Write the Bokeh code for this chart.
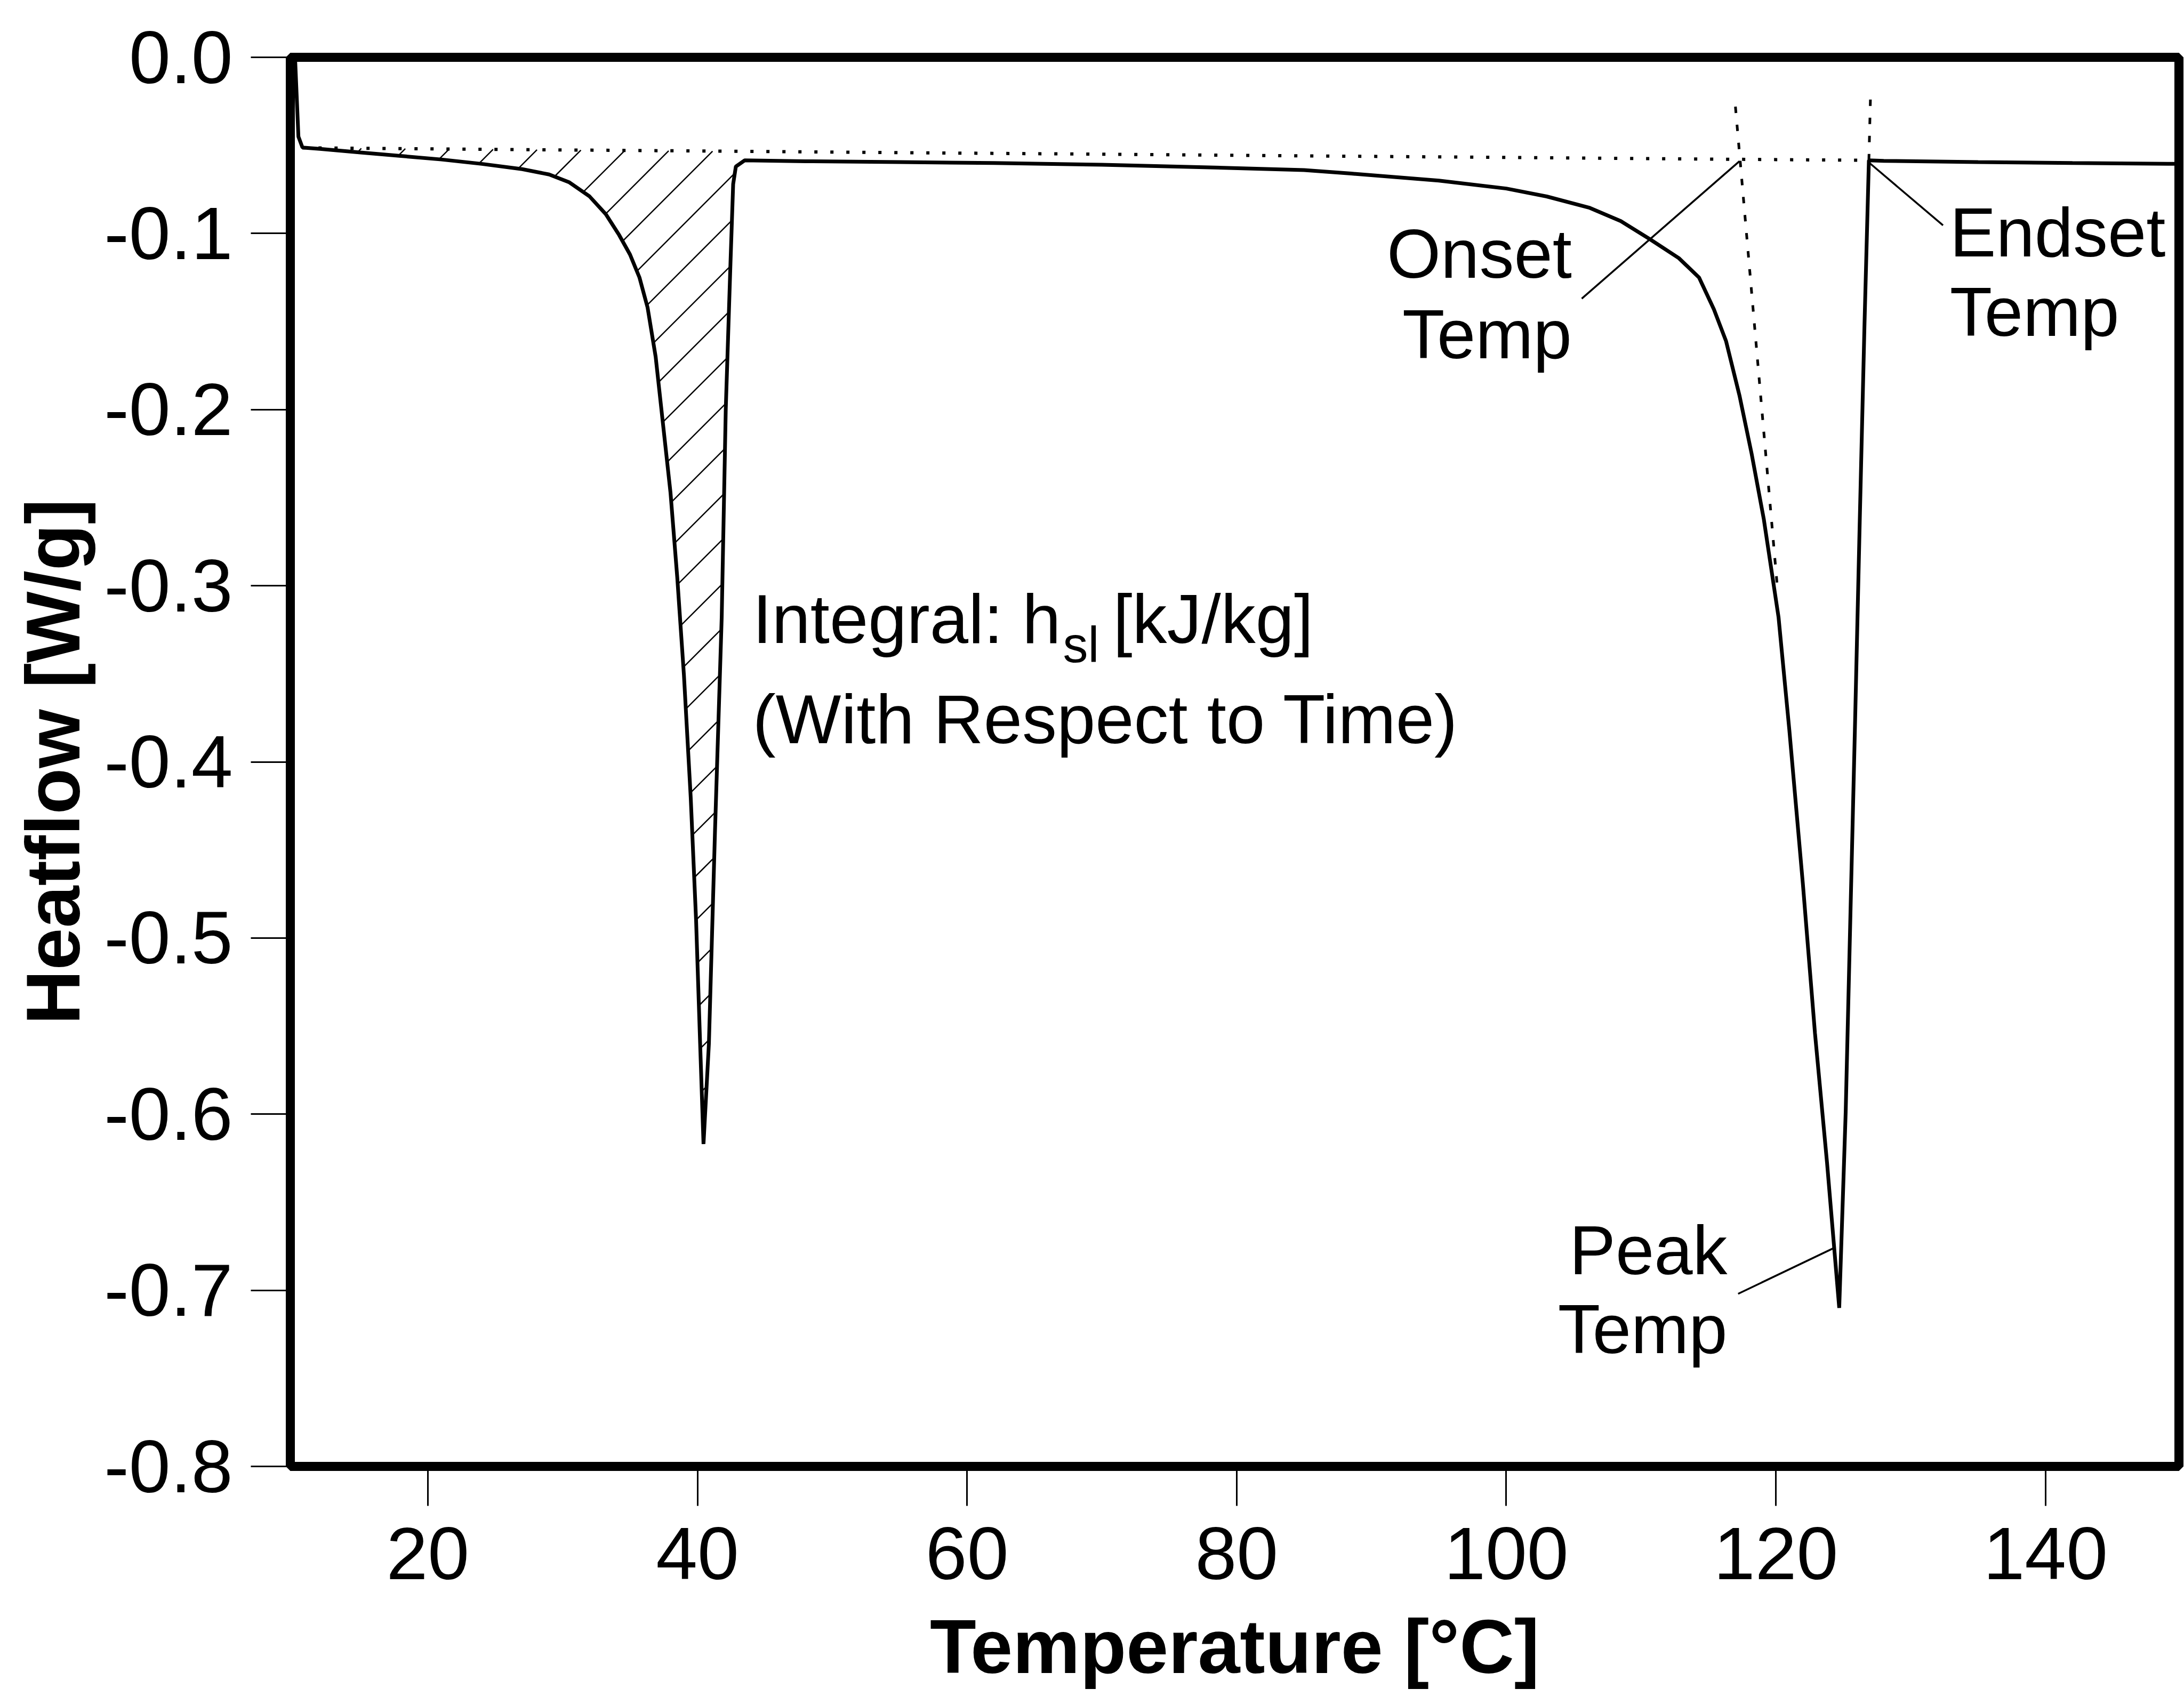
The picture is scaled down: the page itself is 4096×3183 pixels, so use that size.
import numpy as np
from bokeh.plotting import figure
from bokeh.models import Range1d, FixedTicker, Label, NumeralTickFormatter
from bokeh.embed import file_html
from bokeh.resources import INLINE

# ---------------- data ----------------
temperature = [10.15, 10.4, 10.7, 12, 15, 18, 21, 24, 27, 29, 30.5, 32, 33.2, 34.2, 35,
               35.7, 36.3, 36.9, 37.4, 38.0, 38.5, 39.0, 39.5, 39.9, 40.2, 40.45,
               40.85, 41.3, 41.8, 42.1, 42.45, 42.65, 42.85, 43.5, 48, 55, 62, 70, 78,
               85, 88.5, 95, 100, 103, 106.2, 108.5, 110.6, 112.8, 114.3, 115.4, 116.3,
               117.3, 118.2, 119.1, 120.2, 121.0, 122.0, 122.9, 123.8, 124.7,
               125.18, 125.53, 125.88, 126.22, 126.57, 126.9, 128, 135, 142, 150]
heatflow = [0.0, -0.045, -0.0512, -0.052, -0.054, -0.056, -0.058, -0.0605, -0.0635, -0.0665,
            -0.071, -0.079, -0.089, -0.101, -0.112, -0.125, -0.142, -0.170, -0.205,
            -0.247, -0.295, -0.351, -0.420, -0.490, -0.560, -0.617,
            -0.560, -0.440, -0.318, -0.200, -0.117, -0.072, -0.062, -0.0585, -0.059,
            -0.0595, -0.060, -0.061, -0.0625, -0.064, -0.066, -0.070, -0.0745, -0.079,
            -0.0855, -0.093, -0.103, -0.114, -0.125, -0.143, -0.161,
            -0.192, -0.225, -0.262, -0.318, -0.382, -0.469, -0.554, -0.628, -0.710,
            -0.5986, -0.487, -0.376, -0.264, -0.153, -0.0585, -0.0588, -0.0595, -0.060, -0.0605]

baseline_temp = [10.7, 126.9]
baseline_heat = [-0.0514, -0.0585]

onset_tangent_temp = [117.0, 120.1]
onset_tangent_heat = [-0.028, -0.300]
endset_tangent_temp = [126.9, 127.02]
endset_tangent_heat = [-0.0585, -0.022]

onset_leader_temp = [105.6, 117.3]
onset_leader_heat = [-0.137, -0.059]
endset_leader_temp = [126.95, 132.4]
endset_leader_heat = [-0.060, -0.0954]
peak_leader_temp = [117.2, 124.3]
peak_leader_heat = [-0.702, -0.676]

x_ticks = [20, 40, 60, 80, 100, 120, 140]
y_ticks = [0.0, -0.1, -0.2, -0.3, -0.4, -0.5, -0.6, -0.7, -0.8]

x_label = "Temperature [°C]"
y_label = "Heatflow [W/g]"

FONT = "Liberation Sans"

# ---------------- figure ----------------
W, H = 4096, 3183
BL, BR, BT, BB = 544, 10, 107, 433
x_lo, x_hi = 9.8, 149.9
y_lo, y_hi = -0.8, 0.0
frame_w = W - BL - BR
frame_h = H - BT - BB
px_per_x = frame_w / (x_hi - x_lo)
px_per_y = frame_h / (y_hi - y_lo)

p = figure(width=W, height=H, x_range=Range1d(x_lo, x_hi), y_range=Range1d(y_lo, y_hi),
           output_backend="svg", toolbar_location=None,
           min_border_left=BL, min_border_right=BR, min_border_top=BT, min_border_bottom=BB)
p.background_fill_color = "white"
p.border_fill_color = "white"
p.outline_line_color = "black"
p.outline_line_width = 17
p.grid.visible = False

for ax in (p.xaxis[0], p.yaxis[0]):
    ax.axis_line_color = None
    ax.major_tick_in = 0
    ax.major_tick_out = 74
    ax.major_tick_line_width = 3
    ax.major_tick_line_color = "black"
    ax.minor_tick_line_color = None
    ax.major_label_text_font = FONT
    ax.major_label_text_font_size = "140px"
    ax.major_label_text_color = "black"
    ax.axis_label_text_font = FONT
    ax.axis_label_text_font_size = "142px"
    ax.axis_label_text_font_style = "bold"
    ax.axis_label_text_color = "black"

p.xaxis.ticker = FixedTicker(ticks=x_ticks)
p.yaxis.ticker = FixedTicker(ticks=y_ticks)
p.yaxis.formatter = NumeralTickFormatter(format="0.0")
p.xaxis.formatter = NumeralTickFormatter(format="0")
p.xaxis.axis_label = x_label
p.yaxis.axis_label = y_label
p.xaxis.major_label_standoff = 41
p.yaxis.major_label_standoff = 34
p.xaxis.axis_label_standoff = 44
p.yaxis.axis_label_standoff = 13

# ---------------- hatch lines inside the first peak (computed from data) ----------------
k = px_per_x / px_per_y            # 45 degree slope in data units
step_x = 83 / px_per_x             # horizontal spacing of the hatch
xs = np.linspace(baseline_temp[0], 42.85, 4000)
yc = np.interp(xs, temperature, heatflow)
yb = np.interp(xs, baseline_temp, baseline_heat)
hx0, hy0, hx1, hy1 = [], [], [], []
c0 = -0.368
for n in range(-30, 30):
    c = c0 + n * k * step_x
    line = c + k * xs
    m = (line <= yb) & (line >= yc)
    if m.sum() > 2:
        a, b = xs[m].min(), xs[m].max()
        hx0.append(a); hy0.append(c + k * a)
        hx1.append(b); hy1.append(c + k * b)
p.segment(hx0, hy0, hx1, hy1, line_color="black", line_width=2.5)

# ---------------- curves ----------------
p.line(baseline_temp, baseline_heat, line_color="black", line_width=6, line_dash="6 24")
p.line(onset_tangent_temp, onset_tangent_heat, line_color="black", line_width=5, line_dash="12 22")
p.line(endset_tangent_temp, endset_tangent_heat, line_color="black", line_width=5, line_dash="12 22")
p.line(temperature, heatflow, line_color="black", line_width=7)

for lx, ly in ((onset_leader_temp, onset_leader_heat),
               (endset_leader_temp, endset_leader_heat),
               (peak_leader_temp, peak_leader_heat)):
    p.line(lx, ly, line_color="black", line_width=3.5)

# ---------------- annotations ----------------
FS = 130
def lab(x, y, t, align="left", size=FS):
    # y is the wanted baseline; correct for the renderer's baseline placement
    y_adj = y + 0.385 * size / px_per_y
    p.add_layout(Label(x=x, y=y_adj, text=t, text_font=FONT, text_font_size=f"{size}px",
                       text_align=align, text_baseline="alphabetic", text_color="black"))

lab(104.86, -0.1268, "Onset", "right")
lab(104.86, -0.1723, "Temp", "right")
lab(132.9, -0.1146, "Endset")
lab(132.9, -0.1596, "Temp")
lab(116.4, -0.6923, "Peak", "right")
lab(116.4, -0.7372, "Temp", "right")

# "Integral: h" + subscript "sl" + "[kJ/kg]" laid out with Liberation Sans advance widths
int_x = 44.09
w_main = 4.447 * FS                 # advance of "Integral: h" in px
SUB = round(FS * 0.72)
w_sub = 0.722 * SUB                 # advance of "sl"
sub_x = int_x + (w_main + 4) / px_per_x
br_x = sub_x + (w_sub + 0.2 * FS) / px_per_x
lab(int_x, -0.334, "Integral: h")
lab(sub_x, -0.3445, "sl", size=SUB)
lab(br_x, -0.334, "[kJ/kg]")
lab(int_x, -0.391, "(With Respect to Time)")

open("out.html", "w").write(file_html(p, INLINE))
